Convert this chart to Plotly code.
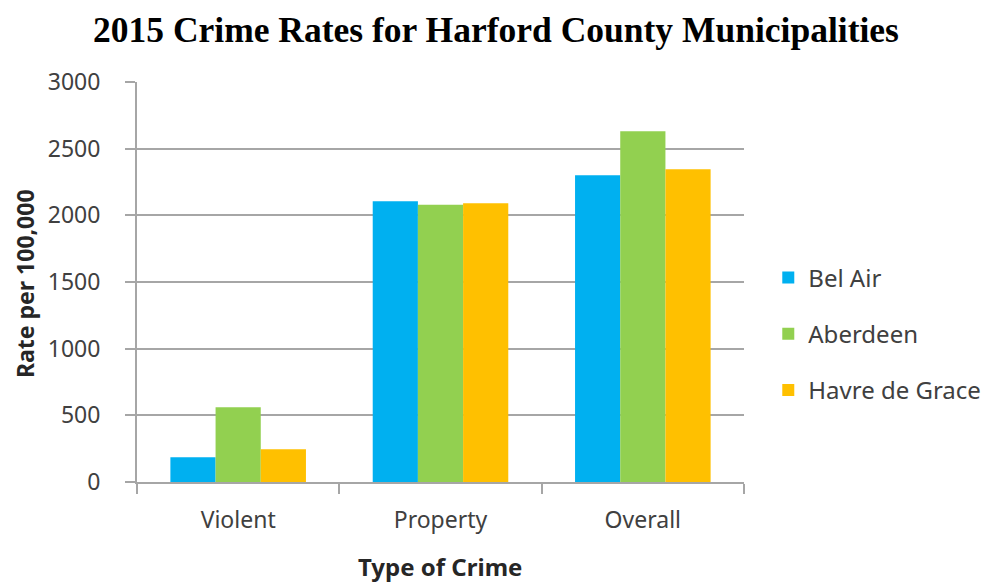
import plotly.graph_objects as go

# Crime rate data (per 100,000 residents), 2015
crime_types = ["Violent", "Property", "Overall"]
bel_air = [185, 2105, 2300]
aberdeen = [560, 2080, 2630]
havre_de_grace = [245, 2090, 2345]

series = [
    ("Bel Air", bel_air, "#00B0F0"),
    ("Aberdeen", aberdeen, "#92D050"),
    ("Havre de Grace", havre_de_grace, "#FFC000"),
]

y_ticks = [0, 500, 1000, 1500, 2000, 2500, 3000]

fig = go.Figure()
for name, values, color in series:
    fig.add_trace(go.Bar(
        x=crime_types, y=values, name=name, legendgroup=name,
        marker=dict(color=color, line=dict(width=0)),
    ))

axis_gray = "#A6A6A6"
tick_font = dict(family="Noto Sans", size=23, color="#404040")
legend_font = dict(family="Noto Sans", size=24, color="#404040")
axis_title_font = dict(family="Noto Sans", size=23, color="#262626")

W, H = 1002, 582
M = dict(l=137, r=258, t=82, b=100)

fig.update_layout(
    width=W, height=H,
    margin=M,
    paper_bgcolor="white", plot_bgcolor="white",
    barmode="group", bargap=0.33, bargroupgap=0,
    title=dict(
        text="<b>2015 Crime Rates for Harford County Municipalities</b>",
        font=dict(family="Liberation Serif", size=35.5, color="black"),
        x=0.495, xanchor="center", y=0.95, yanchor="middle",
    ),
    legend=dict(
        x=1.04, xanchor="left", y=0.37, yanchor="middle",
        font=legend_font, tracegroupgap=22, itemwidth=30,
        bgcolor="rgba(0,0,0,0)",
    ),
    xaxis=dict(
        automargin=False,
        showline=True, linecolor=axis_gray, linewidth=2,
        ticks="outside", tickson="boundaries", ticklen=10,
        tickcolor=axis_gray, tickwidth=2,
        tickfont=tick_font, ticklabelstandoff=16,
    ),
    yaxis=dict(
        automargin=False,
        range=[0, 3000], tickvals=y_ticks,
        showline=True, linecolor=axis_gray, linewidth=2,
        showgrid=True, gridcolor=axis_gray, gridwidth=2,
        zeroline=False,
        ticks="outside", ticklen=10, tickcolor=axis_gray, tickwidth=2,
        tickfont=tick_font, ticklabelstandoff=20,
    ),
)

# Axis titles placed in paper coordinates
plot_w = W - M["l"] - M["r"]
plot_h = H - M["t"] - M["b"]
fig.add_annotation(
    text="<b>Type of Crime</b>", font=dict(axis_title_font, size=24),
    xref="paper", yref="paper", showarrow=False,
    x=(440 - M["l"]) / plot_w, y=-(566 - (H - M["b"])) / plot_h,
    xanchor="center", yanchor="middle",
)
fig.add_annotation(
    text="<b>Rate per 100,000</b>", font=axis_title_font, textangle=-90,
    xref="paper", yref="paper", showarrow=False,
    x=-(M["l"] - 25) / plot_w, y=((H - M["b"]) - 284) / plot_h,
    xanchor="center", yanchor="middle",
)

fig.write_html("out.html")
